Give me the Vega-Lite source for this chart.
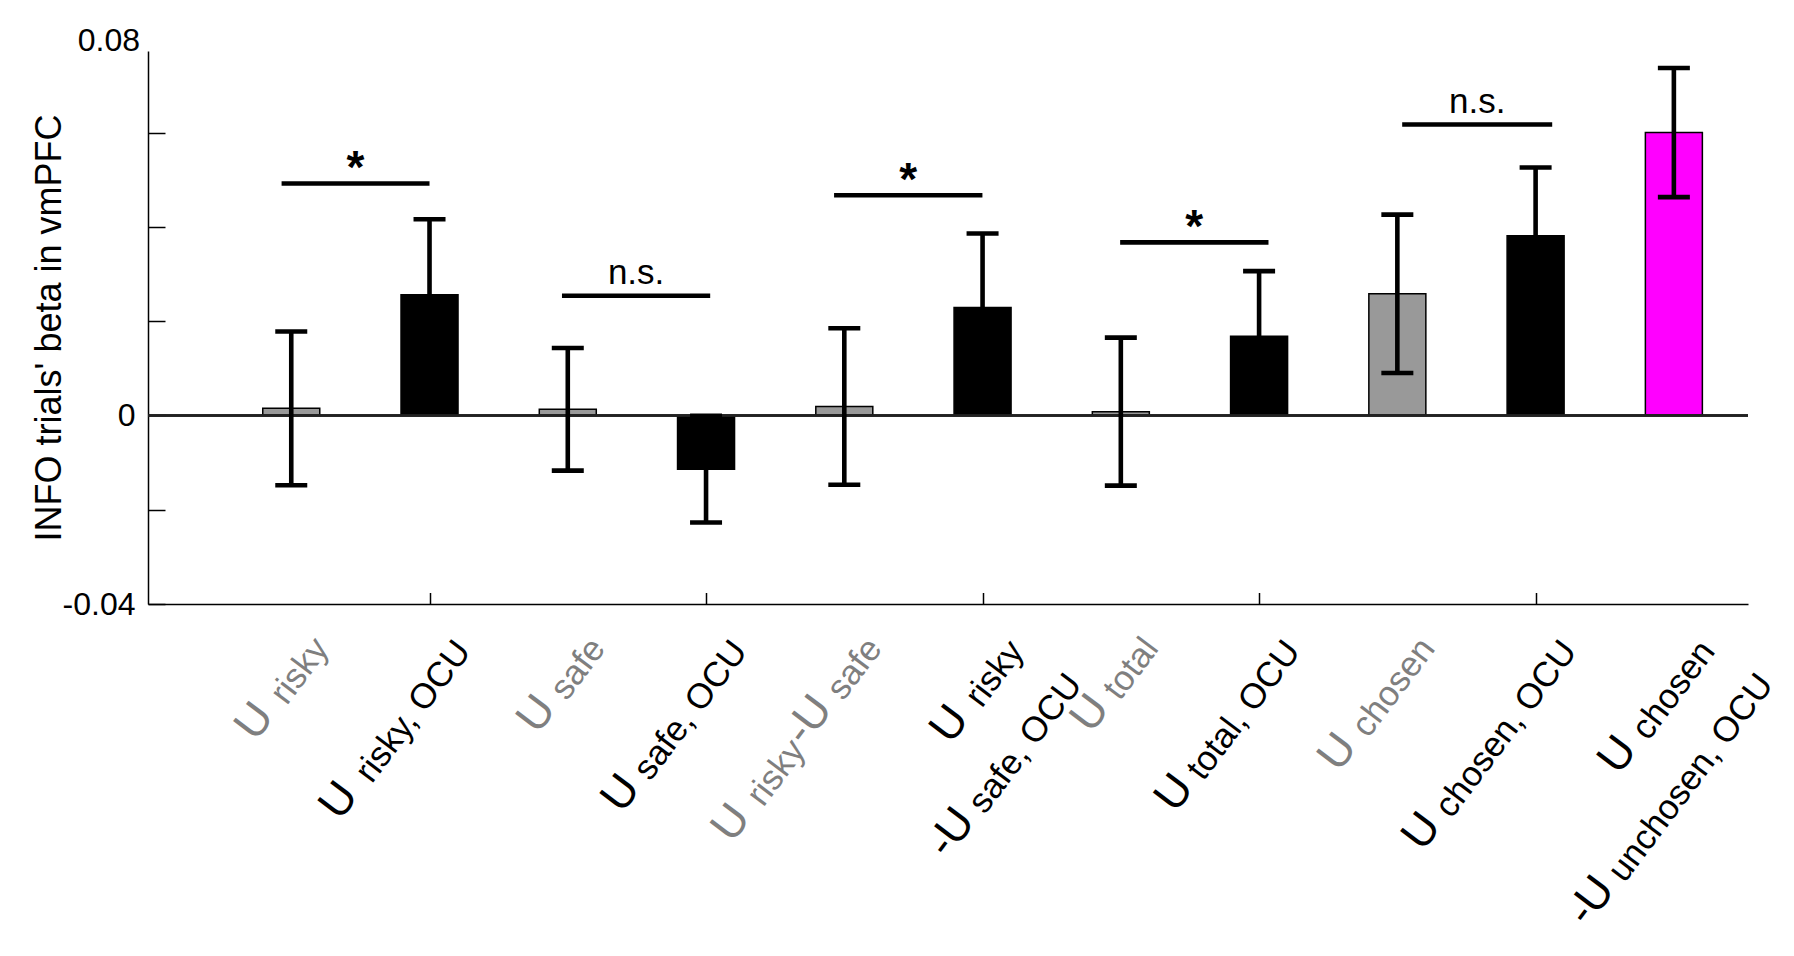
{
  "$schema": "https://vega.github.io/schema/vega-lite/v6.json",
  "width": 1600,
  "height": 553,
  "autosize": {"type": "none"},
  "padding": {"left": 148, "top": 51, "right": 46, "bottom": 352},
  "background": "white",
  "config": {
    "view": {"stroke": null},
    "font": "Liberation Sans",
    "axis": {"grid": false, "labelFont": "Liberation Sans", "titleFont": "Liberation Sans"},
    "text": {"font": "Liberation Sans"}
  },
  "datasets": {
    "bars": [
      {"pos": 1, "name": "U risky", "tone": "gray", "beta": 0.0015, "lo": -0.0148, "hi": 0.0178},
      {"pos": 2, "name": "U risky, OCU", "tone": "black", "beta": 0.0256, "lo": 0.0096, "hi": 0.0416},
      {"pos": 3, "name": "U safe", "tone": "gray", "beta": 0.0013, "lo": -0.0117, "hi": 0.0143},
      {"pos": 4, "name": "U safe, OCU", "tone": "black", "beta": -0.0114, "lo": -0.0227, "hi": -0.0001},
      {"pos": 5, "name": "U risky - U safe", "tone": "gray", "beta": 0.0019, "lo": -0.0147, "hi": 0.0185},
      {"pos": 6, "name": "U risky - U safe, OCU", "tone": "black", "beta": 0.0229, "lo": 0.0072, "hi": 0.0386},
      {"pos": 7, "name": "U total", "tone": "gray", "beta": 0.0008, "lo": -0.0149, "hi": 0.0165},
      {"pos": 8, "name": "U total, OCU", "tone": "black", "beta": 0.0168, "lo": 0.003, "hi": 0.0306},
      {"pos": 9, "name": "U chosen", "tone": "gray", "beta": 0.0258, "lo": 0.009, "hi": 0.0426},
      {"pos": 10, "name": "U chosen, OCU", "tone": "black", "beta": 0.0381, "lo": 0.0236, "hi": 0.0526},
      {"pos": 11, "name": "U chosen - U unchosen, OCU", "tone": "magenta", "beta": 0.06, "lo": 0.0463, "hi": 0.0737}
    ],
    "ytop": [
      {"ytick": 0.08, "ylabel": "0.08"}
    ],
    "sig": [
      {"x1": 0.93, "x2": 2.0, "yline": 0.0492, "sig": "*"},
      {"x1": 2.958, "x2": 4.03, "yline": 0.0254, "sig": "n.s."},
      {"x1": 4.926, "x2": 5.999, "yline": 0.0467, "sig": "*"},
      {"x1": 6.995, "x2": 8.068, "yline": 0.0367, "sig": "*"},
      {"x1": 9.035, "x2": 10.12, "yline": 0.0617, "sig": "n.s."}
    ],
    "labels": [
      {"pos": 1, "line": 1, "tone": "gray", "b1": "U", "s1": "risky", "b2": "", "s2": ""},
      {"pos": 2, "line": 1, "tone": "black", "b1": "U", "s1": "risky, OCU", "b2": "", "s2": ""},
      {"pos": 3, "line": 1, "tone": "gray", "b1": "U", "s1": "safe", "b2": "", "s2": ""},
      {"pos": 4, "line": 1, "tone": "black", "b1": "U", "s1": "safe, OCU", "b2": "", "s2": ""},
      {"pos": 5, "line": 1, "tone": "gray", "b1": "U", "s1": "risky", "b2": "-U", "s2": "safe"},
      {"pos": 6, "line": 1, "tone": "black", "b1": "U", "s1": "risky", "b2": "", "s2": ""},
      {"pos": 6, "line": 2, "tone": "black", "b1": "-U", "s1": "safe, OCU", "b2": "", "s2": ""},
      {"pos": 7, "line": 1, "tone": "gray", "b1": "U", "s1": "total", "b2": "", "s2": ""},
      {"pos": 8, "line": 1, "tone": "black", "b1": "U", "s1": "total, OCU", "b2": "", "s2": ""},
      {"pos": 9, "line": 1, "tone": "gray", "b1": "U", "s1": "chosen", "b2": "", "s2": ""},
      {"pos": 10, "line": 1, "tone": "black", "b1": "U", "s1": "chosen, OCU", "b2": "", "s2": ""},
      {"pos": 11, "line": 1, "tone": "black", "b1": "U", "s1": "chosen", "b2": "", "s2": ""},
      {"pos": 11, "line": 2, "tone": "black", "b1": "-U", "s1": "unchosen, OCU", "b2": "", "s2": ""}
    ]
  },
  "layer": [
    {
      "data": {"name": "bars"},
      "mark": {"type": "bar", "width": 57, "stroke": "black", "strokeWidth": 1.5},
      "encoding": {
        "x": {
          "field": "pos", "type": "quantitative",
          "scale": {"domain": [0, 11.5], "nice": false, "zero": false},
          "axis": {"values": [2, 4, 6, 8, 10], "labels": false, "title": null, "tickSize": -11.5, "tickWidth": 1.5, "tickColor": "black", "domainColor": "black", "domainWidth": 1.5}
        },
        "y": {
          "field": "beta", "type": "quantitative",
          "title": "INFO trials' beta in vmPFC",
          "scale": {"domain": [-0.04, 0.0773], "nice": false, "zero": false},
          "axis": {
            "values": [-0.04, -0.02, 0, 0.02, 0.04, 0.06],
            "labelExpr": "datum.value == 0 ? '0' : (datum.value == -0.04 ? '-0.04' : '')",
            "titleFontSize": 36, "titleFontWeight": "normal", "titleColor": "black", "titlePadding": -6,
            "labelFontSize": 32, "labelColor": "black", "labelPadding": 30,
            "tickSize": -17, "tickWidth": 1.5, "tickColor": "black",
            "domainColor": "black", "domainWidth": 1.5
          }
        },
        "color": {
          "field": "tone", "type": "nominal",
          "scale": {"domain": ["gray", "black", "magenta"], "range": ["#999999", "#000000", "#ff00ff"]},
          "legend": null
        }
      }
    },
    {
      "data": {"name": "bars"},
      "mark": {"type": "rule", "color": "#222222", "strokeWidth": 1.5},
      "encoding": {"y": {"datum": 0, "type": "quantitative"}}
    },
    {
      "data": {"name": "ytop"},
      "mark": {"type": "text", "align": "right", "baseline": "middle", "fontSize": 32, "color": "black", "dx": -13, "dy": 3},
      "encoding": {
        "x": {"datum": 0, "type": "quantitative"},
        "y": {"field": "ytick", "type": "quantitative", "title": "INFO trials' beta in vmPFC"},
        "text": {"field": "ylabel"}
      }
    },
    {
      "data": {"name": "bars"},
      "mark": {"type": "rule", "color": "black", "strokeWidth": 4.6, "strokeCap": "butt"},
      "encoding": {
        "x": {"field": "pos", "type": "quantitative"},
        "y": {"field": "lo", "type": "quantitative", "title": "INFO trials' beta in vmPFC"},
        "y2": {"field": "hi"}
      }
    },
    {
      "data": {"name": "bars"},
      "mark": {"type": "rule", "color": "black", "strokeWidth": 4.6, "strokeCap": "butt", "xOffset": -16, "x2Offset": 16},
      "encoding": {
        "x": {"field": "pos", "type": "quantitative"},
        "x2": {"field": "pos"},
        "y": {"field": "lo", "type": "quantitative", "title": "INFO trials' beta in vmPFC"}
      }
    },
    {
      "data": {"name": "bars"},
      "mark": {"type": "rule", "color": "black", "strokeWidth": 4.6, "strokeCap": "butt", "xOffset": -16, "x2Offset": 16},
      "encoding": {
        "x": {"field": "pos", "type": "quantitative"},
        "x2": {"field": "pos"},
        "y": {"field": "hi", "type": "quantitative", "title": "INFO trials' beta in vmPFC"}
      }
    },
    {
      "data": {"name": "sig"},
      "mark": {"type": "rule", "color": "black", "strokeWidth": 4.6, "strokeCap": "butt"},
      "encoding": {
        "x": {"field": "x1", "type": "quantitative"},
        "x2": {"field": "x2"},
        "y": {"field": "yline", "type": "quantitative", "title": "INFO trials' beta in vmPFC"}
      }
    },
    {
      "data": {"name": "sig"},
      "mark": {
        "type": "text", "align": "center", "baseline": "alphabetic", "color": "black",
        "dx": {"expr": "(scale('x', datum.x2) - scale('x', datum.x1)) / 2"},
        "dy": {"expr": "datum.sig == '*' ? 0 : -11.5"},
        "fontSize": {"expr": "datum.sig == '*' ? 46 : 35"},
        "fontWeight": {"expr": "datum.sig == '*' ? 'bold' : 'normal'"}
      },
      "encoding": {
        "x": {"field": "x1", "type": "quantitative"},
        "y": {"field": "yline", "type": "quantitative", "title": "INFO trials' beta in vmPFC"},
        "text": {"field": "sig"}
      }
    },
    {
      "data": {"name": "labels"},
      "mark": {
        "type": "text", "angle": 307, "align": "right", "baseline": "alphabetic", "fontSize": 35,
        "dx": {"expr": "(datum.line == 1 ? -12.5 : -4)"},
        "dy": {"expr": "(datum.line == 1 ? (datum.tone == 'gray' ? 58 : 62.5) : 129)"}
      },
      "encoding": {
        "x": {"field": "pos", "type": "quantitative"},
        "y": {"datum": -0.04, "type": "quantitative"},
        "text": {"field": "s2"},
        "color": {"condition": {"test": "datum.tone == 'gray'", "value": "#7f7f7f"}, "value": "black"}
      }
    },
    {
      "data": {"name": "labels"},
      "mark": {
        "type": "text", "angle": 307, "align": "right", "baseline": "alphabetic", "fontSize": 45,
        "dx": {"expr": "(datum.line == 1 ? -12.5 : -4) - 35*(0.54*length(datum.s2) - 0.28*length(replace(datum.s2, regexp('[^ilrtf,. ]', 'g'), '')) + 0.2*length(replace(datum.s2, regexp('[^A-Z]', 'g'), ''))) - (datum.s2 != '' ? 12 : 0)"},
        "dy": {"expr": "(datum.line == 1 ? (datum.tone == 'gray' ? 55 : 59.5) : 126)"}
      },
      "encoding": {
        "x": {"field": "pos", "type": "quantitative"},
        "y": {"datum": -0.04, "type": "quantitative"},
        "text": {"field": "b2"},
        "color": {"condition": {"test": "datum.tone == 'gray'", "value": "#7f7f7f"}, "value": "black"}
      }
    },
    {
      "data": {"name": "labels"},
      "mark": {
        "type": "text", "angle": 307, "align": "right", "baseline": "alphabetic", "fontSize": 35,
        "dx": {"expr": "(datum.line == 1 ? -12.5 : -4) - 35*(0.54*length(datum.s2) - 0.28*length(replace(datum.s2, regexp('[^ilrtf,. ]', 'g'), '')) + 0.2*length(replace(datum.s2, regexp('[^A-Z]', 'g'), ''))) - (datum.s2 != '' ? 12 : 0) - 45*(length(datum.b2) == 2 ? 1.055 : (length(datum.b2) == 1 ? 0.722 : 0)) - (datum.b2 != '' ? 2 : 0)"},
        "dy": {"expr": "(datum.line == 1 ? (datum.tone == 'gray' ? 58 : 62.5) : 129)"}
      },
      "encoding": {
        "x": {"field": "pos", "type": "quantitative"},
        "y": {"datum": -0.04, "type": "quantitative"},
        "text": {"field": "s1"},
        "color": {"condition": {"test": "datum.tone == 'gray'", "value": "#7f7f7f"}, "value": "black"}
      }
    },
    {
      "data": {"name": "labels"},
      "mark": {
        "type": "text", "angle": 307, "align": "right", "baseline": "alphabetic", "fontSize": 45,
        "dx": {"expr": "(datum.line == 1 ? -12.5 : -4) - 35*(0.54*length(datum.s2) - 0.28*length(replace(datum.s2, regexp('[^ilrtf,. ]', 'g'), '')) + 0.2*length(replace(datum.s2, regexp('[^A-Z]', 'g'), ''))) - (datum.s2 != '' ? 12 : 0) - 45*(length(datum.b2) == 2 ? 1.055 : (length(datum.b2) == 1 ? 0.722 : 0)) - (datum.b2 != '' ? 2 : 0) - 35*(0.54*length(datum.s1) - 0.28*length(replace(datum.s1, regexp('[^ilrtf,. ]', 'g'), '')) + 0.2*length(replace(datum.s1, regexp('[^A-Z]', 'g'), ''))) - 12"},
        "dy": {"expr": "(datum.line == 1 ? (datum.tone == 'gray' ? 55 : 59.5) : 126)"}
      },
      "encoding": {
        "x": {"field": "pos", "type": "quantitative"},
        "y": {"datum": -0.04, "type": "quantitative"},
        "text": {"field": "b1"},
        "color": {"condition": {"test": "datum.tone == 'gray'", "value": "#7f7f7f"}, "value": "black"}
      }
    }
  ]
}
